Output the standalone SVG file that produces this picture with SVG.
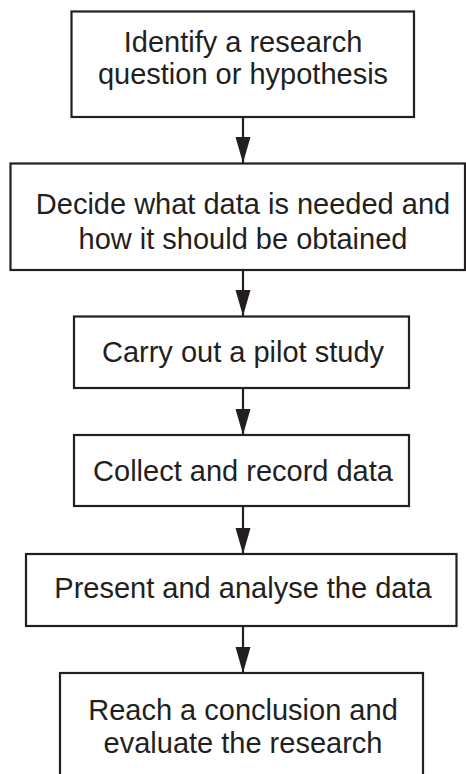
<svg xmlns="http://www.w3.org/2000/svg" width="466" height="774" viewBox="0 0 466 774">
<style>
.box{fill:#fff;stroke:#231f20;stroke-width:2.2}
.t{font-family:"Liberation Sans",Arial,sans-serif;font-size:29px;fill:#231f20;text-anchor:middle}
.c{stroke:#231f20;stroke-width:2.2;fill:none}
</style>
<defs>
<marker id="ah" markerUnits="userSpaceOnUse" markerWidth="28" markerHeight="16" refX="26" refY="7.5" orient="auto">
<path d="M0,0 L26,7.5 L0,15 Z" fill="#231f20"/>
</marker>
</defs>
<rect width="466" height="774" fill="#fff"/>
<g id="connectors">
<line class="c" x1="243" y1="117" x2="243" y2="163" marker-end="url(#ah)"/>
<line class="c" x1="243" y1="270" x2="243" y2="316" marker-end="url(#ah)"/>
<line class="c" x1="243" y1="388" x2="243" y2="435" marker-end="url(#ah)"/>
<line class="c" x1="243" y1="506" x2="243" y2="554" marker-end="url(#ah)"/>
<line class="c" x1="243" y1="626" x2="243" y2="673" marker-end="url(#ah)"/>
</g>
<g id="n1">
<rect class="box" x="71.5" y="11.5" width="342.5" height="105.5"/>
<text class="t" x="243" y="52">Identify a research</text>
<text class="t" x="243" y="84">question or hypothesis</text>
</g>
<g id="n2">
<rect class="box" x="10.5" y="163.5" width="454.5" height="106.5"/>
<text class="t" x="243" y="214">Decide what data is needed and</text>
<text class="t" x="243" y="249">how it should be obtained</text>
</g>
<g id="n3">
<rect class="box" x="74" y="316.5" width="335" height="71.5"/>
<text class="t" x="243" y="362">Carry out a pilot study</text>
</g>
<g id="n4">
<rect class="box" x="74" y="435" width="335" height="71"/>
<text class="t" x="243" y="481">Collect and record data</text>
</g>
<g id="n5">
<rect class="box" x="26" y="554" width="430.5" height="72"/>
<text class="t" x="243" y="598">Present and analyse the data</text>
</g>
<g id="n6">
<rect class="box" x="60" y="673" width="363" height="110"/>
<text class="t" x="243" y="720">Reach a conclusion and</text>
<text class="t" x="243" y="753">evaluate the research</text>
</g>
</svg>
